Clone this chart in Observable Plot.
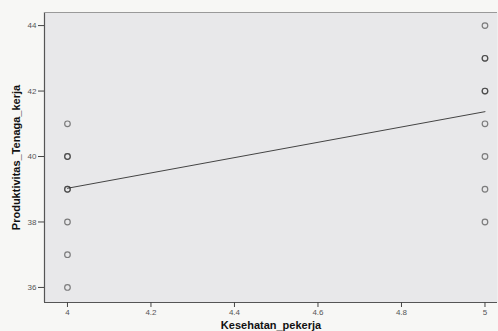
<!DOCTYPE html>
<html><head><meta charset="utf-8">
<script src="https://cdn.jsdelivr.net/npm/d3@7"></script>
<script src="https://cdn.jsdelivr.net/npm/@observablehq/plot@0.6"></script>
<style>body{margin:0;background:#f7f7f5;font-family:"Liberation Sans",Arial,sans-serif}</style>
</head><body><div id="chart"></div>
<script>
// repeated values mark overlapping observations (darker circles in the reference)
const kesehatan = [4,4,4,4,4,4,4,4,5,5,5,5,5,5,5,5,5];
const produktivitas = [36,37,38,39,39,40,40,41,38,39,40,41,42,42,43,43,44];
const fitX = [4,5];
const fitY = [39.03,41.37];
const xTicks = [4,4.2,4.4,4.6,4.8,5];
const yTicks = [36,38,40,42,44];

const pts = kesehatan.map((k,i)=>({x:k,y:produktivitas[i]}));
const fit = fitX.map((k,i)=>({x:k,y:fitY[i]}));

const chart = Plot.plot({
  width:498, height:331,
  marginLeft:44, marginRight:1, marginTop:12, marginBottom:29,
  style:{background:"transparent", fontFamily:"Liberation Sans, Arial, sans-serif", fontSize:"8px", color:"#555"},
  x:{domain:[3.945,5.03]},
  y:{domain:[35.54,44.4]},
  marks:[
    Plot.frame({fill:"#e8e8ea", stroke:"none"}),
    Plot.ruleY([35.54],{stroke:"#555", strokeWidth:1.2}),
    Plot.ruleX([3.945],{stroke:"#555", strokeWidth:1.2}),
    Plot.ruleY([44.4],{stroke:"#999", strokeWidth:1}),
    Plot.axisX({ticks:xTicks, tickSize:5, tickPadding:2, tickFormat:d=>String(d), stroke:"#444",
      label:"Kesehatan_pekerja", labelAnchor:"center", labelArrow:"none", labelOffset:26}),
    Plot.axisY({ticks:yTicks, tickSize:6, tickPadding:2, stroke:"#444",
      label:"Produktivitas_Tenaga_kerja", labelAnchor:"center", labelArrow:"none", labelOffset:32}),
    Plot.line(fit,{x:"x", y:"y", stroke:"#444", strokeWidth:1}),
    Plot.dot(pts,{x:"x", y:"y", r:2.8, stroke:"#222", strokeOpacity:0.55, strokeWidth:1.2, fill:"none"})
  ]
});
d3.select(chart).selectAll("[aria-label='x-axis label'] text, [aria-label='y-axis label'] text")
  .style("font-weight","bold").style("font-size","11px").style("fill","#111");
document.getElementById("chart").appendChild(chart);
</script></body></html>
